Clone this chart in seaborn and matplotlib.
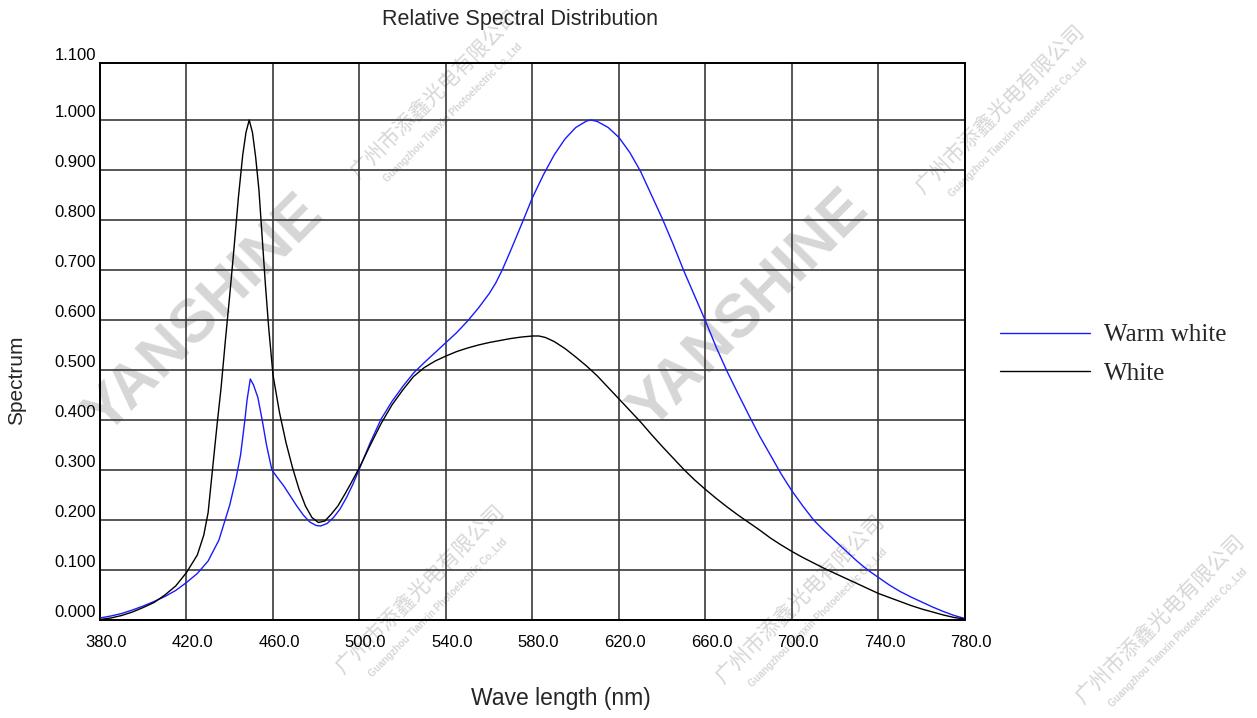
import numpy as np
import pandas as pd
import matplotlib
matplotlib.use("Agg")
import matplotlib.pyplot as plt
import matplotlib.transforms as mtransforms
from matplotlib.lines import Line2D
import seaborn as sns

# ---------------- data ----------------
warm_wl = [380, 385, 390, 395, 400, 405, 410, 415, 420, 425, 430, 435, 440, 443, 445, 447, 448,
           449.5, 451, 453, 455, 457, 459.5, 462, 465, 468, 471, 474, 477, 480, 482, 485, 488,
           491, 494, 497, 500, 505, 510, 515, 520, 525, 530, 535, 540, 545, 550, 555, 560, 563,
           566, 570, 575, 580, 585, 590, 595, 600, 605, 607, 610, 615, 620, 625, 630, 635, 640,
           645, 650, 655, 660, 665, 670, 675, 680, 685, 690, 695, 700, 705, 710, 715, 720, 725,
           730, 735, 740, 745, 750, 755, 760, 765, 770, 775, 780]
warm_val = [0.004, 0.008, 0.013, 0.020, 0.028, 0.037, 0.047, 0.059, 0.075, 0.093, 0.118, 0.160,
            0.230, 0.285, 0.330, 0.400, 0.440, 0.482, 0.470, 0.445, 0.400, 0.350, 0.300, 0.285,
            0.268, 0.248, 0.228, 0.210, 0.196, 0.189, 0.188, 0.193, 0.205, 0.222, 0.245, 0.272,
            0.303, 0.355, 0.402, 0.437, 0.467, 0.494, 0.515, 0.535, 0.555, 0.575, 0.598, 0.624,
            0.653, 0.674, 0.700, 0.740, 0.792, 0.845, 0.890, 0.930, 0.962, 0.985, 0.998, 1.000,
            0.997, 0.985, 0.965, 0.935, 0.897, 0.850, 0.803, 0.752, 0.698, 0.648, 0.598, 0.545,
            0.497, 0.453, 0.410, 0.368, 0.330, 0.292, 0.258, 0.228, 0.200, 0.178, 0.158, 0.138,
            0.118, 0.100, 0.085, 0.070, 0.057, 0.046, 0.036, 0.026, 0.017, 0.009, 0.003]

white_wl = [380, 385, 390, 395, 400, 405, 410, 415, 420, 425, 428, 430, 432, 434, 436, 438, 440,
            442, 444, 446, 447.5, 449, 450.5, 452, 453.5, 455, 456.5, 458, 460, 463, 466, 469,
            472, 475, 478, 481, 484, 487, 490, 493, 496, 500, 505, 510, 515, 520, 525, 530, 535,
            540, 545, 550, 555, 560, 565, 570, 575, 580, 583, 586, 590, 595, 600, 605, 610, 615,
            620, 625, 630, 635, 640, 645, 650, 655, 660, 665, 670, 675, 680, 685, 690, 695, 700,
            705, 710, 715, 720, 725, 730, 735, 740, 745, 750, 755, 760, 765, 770, 775, 780]
white_val = [0.001, 0.004, 0.009, 0.016, 0.025, 0.035, 0.050, 0.068, 0.095, 0.130, 0.170, 0.215,
             0.300, 0.385, 0.465, 0.560, 0.650, 0.745, 0.845, 0.930, 0.975, 1.000, 0.975, 0.925,
             0.860, 0.765, 0.670, 0.585, 0.490, 0.415, 0.355, 0.305, 0.262, 0.228, 0.205, 0.195,
             0.198, 0.212, 0.228, 0.250, 0.273, 0.305, 0.350, 0.393, 0.430, 0.460, 0.487, 0.505,
             0.518, 0.528, 0.537, 0.544, 0.550, 0.555, 0.559, 0.563, 0.566, 0.568, 0.568, 0.565,
             0.557, 0.543, 0.526, 0.508, 0.488, 0.465, 0.442, 0.419, 0.396, 0.371, 0.347, 0.324,
             0.301, 0.280, 0.261, 0.243, 0.226, 0.210, 0.195, 0.180, 0.164, 0.150, 0.137, 0.125,
             0.114, 0.103, 0.093, 0.083, 0.073, 0.063, 0.053, 0.045, 0.037, 0.029, 0.022, 0.016,
             0.010, 0.005, 0.002]

series_names = ["Warm white", "White"]
x_ticks = [380, 420, 460, 500, 540, 580, 620, 660, 700, 740, 780]
x_tick_labels = ["380.0", "420.0", "460.0", "500.0", "540.0", "580.0", "620.0", "660.0",
                 "700.0", "740.0", "780.0"]
y_ticks = [0.0, 0.1, 0.2, 0.3, 0.4, 0.5, 0.6, 0.7, 0.8, 0.9, 1.0, 1.1]
y_tick_labels = ["0.000", "0.100", "0.200", "0.300", "0.400", "0.500", "0.600", "0.700",
                 "0.800", "0.900", "1.000", "1.100"]

df = pd.concat([
    pd.DataFrame({"Wavelength": warm_wl, "Spectrum": warm_val, "Series": series_names[0]}),
    pd.DataFrame({"Wavelength": white_wl, "Spectrum": white_val, "Series": series_names[1]}),
], ignore_index=True)

# ---------------- styling ----------------
sns.set_style("white")
plt.rcParams["font.family"] = ["Liberation Sans", "DejaVu Sans"]

W, H = 1257, 718
fig = plt.figure(figsize=(W / 100, H / 100), dpi=100)
ax = fig.add_axes([100 / W, 1 - 620 / H, 865 / W, 557 / H])
ax.patch.set_alpha(0)

# faint watermarks behind everything
wm_color = "#d6d6d6"
for (cx, cy) in [(205, 315), (750, 310)]:
    fig.text(cx / W, 1 - cy / H, "YANSHINE", fontsize=44, fontweight="bold", color=wm_color,
             rotation=45, ha="center", va="center", zorder=-5)
cn_wm = "广州市添鑫光电有限公司"
en_wm = "Guangzhou Tianxin Photoelectric Co.,Ltd"
for (cx, cy) in [(435, 95), (1000, 110), (420, 590), (800, 600), (1160, 620)]:
    fig.text(cx / W, 1 - cy / H, cn_wm, fontsize=15, color=wm_color, rotation=45,
             ha="center", va="center", zorder=-5, family=["Noto Sans CJK SC", "DejaVu Sans"])
    fig.text((cx + 18) / W, 1 - (cy + 18) / H, en_wm, fontsize=7, color=wm_color, rotation=45,
             ha="center", va="center", zorder=-5, fontweight="bold")

palette = {"Warm white": "#1a1aff", "White": "#000000"}
sns.lineplot(data=df, x="Wavelength", y="Spectrum", hue="Series", hue_order=series_names,
             palette=palette, linewidth=1.0, sort=False, estimator=None, ax=ax, legend=False,
             zorder=3)

ax.set_xlim(380, 780)
y_top = 1.114
ax.set_ylim(0, y_top)

ax.set_xticks(x_ticks)
ax.set_xticklabels(x_tick_labels)
ytick_pos = y_ticks[:-1] + [y_top]
ax.set_yticks(ytick_pos)
ax.set_yticklabels(y_tick_labels)

ax.grid(True, color="#3a3a3a", linewidth=1.2, zorder=1)
ax.set_axisbelow(True)
for sp in ax.spines.values():
    sp.set_visible(True)
    sp.set_color("black")
    sp.set_linewidth(1.4)

ax.tick_params(axis="both", length=0, labelsize=12, colors="black")
ax.tick_params(axis="x", pad=11)
ax.tick_params(axis="y", pad=3)
for lbl in ax.get_yticklabels():
    lbl.set_va("bottom")
offset = mtransforms.ScaledTranslation(6 / 100, 0, fig.dpi_scale_trans)
for lbl in ax.get_xticklabels():
    lbl.set_transform(lbl.get_transform() + offset)

ax.set_xlabel("")
ax.set_ylabel("")
fig.text(520 / W, 1 - 20 / H, "Relative Spectral Distribution", fontsize=15.5,
         ha="center", va="center")
fig.text(561 / W, 1 - 698 / H, "Wave length (nm)", fontsize=16.5, ha="center", va="center")
fig.text(17 / W, 1 - 380 / H, "Spectrum", fontsize=15, rotation=90, ha="center", va="center")

# legend (outside right)
handles = [Line2D([0], [0], color=palette[n], linewidth=1.0) for n in series_names]
leg = fig.legend(handles, series_names, loc="center left",
                 bbox_to_anchor=(1000 / W, 1 - 354.5 / H), frameon=False,
                 prop={"family": ["Liberation Serif", "DejaVu Serif"], "size": 18},
                 handlelength=3.6, handletextpad=0.55, labelspacing=0.65,
                 borderpad=0, borderaxespad=0)

fig.savefig("out.png", dpi=100)
